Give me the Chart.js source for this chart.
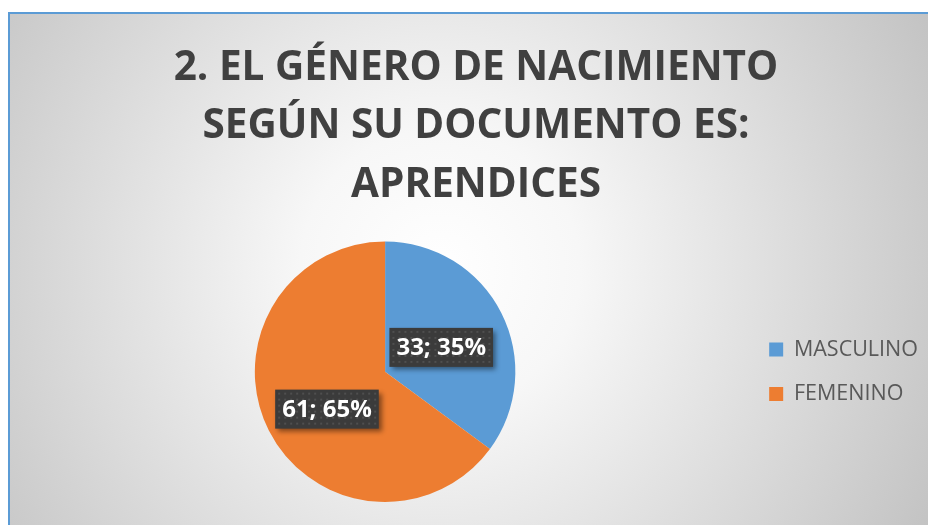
<!DOCTYPE html>
<html>
<head>
<meta charset="utf-8">
<script src="https://cdn.jsdelivr.net/npm/chart.js@4"></script>
<style>
  html, body { margin: 0; padding: 0; background: #fff; overflow: hidden; }
  #wrap { width: 928px; height: 525px; }
</style>
</head>
<body>
<div id="wrap"><canvas id="genero"></canvas></div>
<script>
const titleLines = ['2. EL GÉNERO DE NACIMIENTO', 'SEGÚN SU DOCUMENTO ES:', 'APRENDICES']
const categories = ['MASCULINO', 'FEMENINO']
const counts = [33, 61]
const percents = [35, 65]
const colors = ['#5B9BD5', '#ED7D31']

// fondo con degradado radial y borde azul
const frame = {
  id: 'frame',
  beforeDraw(chart) {
    const ctx = chart.ctx
    const w = chart.width, h = chart.height
    ctx.save()
    ctx.fillStyle = '#ffffff'
    ctx.fillRect(0, 0, w, h)
    const g = ctx.createRadialGradient(440, 270, 0, 440, 270, 560)
    g.addColorStop(0, '#ffffff')
    g.addColorStop(0.25, '#f7f7f7')
    g.addColorStop(1, '#c2c2c2')
    ctx.fillStyle = g
    ctx.fillRect(9, 14, w - 9, h - 14)
    ctx.strokeStyle = '#5B9BD5'
    ctx.lineWidth = 2
    ctx.beginPath()
    ctx.moveTo(9, h)
    ctx.lineTo(9, 13)
    ctx.lineTo(w, 13)
    ctx.stroke()
    ctx.restore()
  }
}

// etiquetas "valor; porcentaje" con caja oscura
const dataLabels = {
  id: 'dataLabels',
  afterDatasetsDraw(chart) {
    const ctx = chart.ctx
    const meta = chart.getDatasetMeta(0)
    ctx.save()
    ctx.font = 'bold 24px "Open Sans"'
    ctx.textAlign = 'center'
    ctx.textBaseline = 'middle'
    meta.data.forEach((arc, i) => {
      const p = arc.getProps(['x', 'y', 'startAngle', 'endAngle', 'outerRadius'], true)
      const mid = (p.startAngle + p.endAngle) / 2
      const r = p.outerRadius * 0.5
      const cx = p.x + Math.cos(mid) * r + (i === 1 ? 0 : -2)
      const cy = p.y + Math.sin(mid) * r + (i === 1 ? 8 : 5)
      const text = counts[i] + '; ' + percents[i] + '%'
      const bw = ctx.measureText(text).width + 14
      const bh = 39
      const bx = cx - bw / 2, by = cy - bh / 2
      ctx.shadowColor = 'rgba(0,0,0,0.45)'
      ctx.shadowBlur = 5
      ctx.shadowOffsetX = 3
      ctx.shadowOffsetY = 3
      ctx.fillStyle = '#3b3b3b'
      ctx.fillRect(bx, by, bw, bh)
      ctx.shadowColor = 'transparent'
      ctx.fillStyle = '#4f4f4f'
      for (let yy = by + 3; yy < by + bh - 1; yy += 6) {
        for (let xx = bx + 3; xx < bx + bw - 1; xx += 6) {
          ctx.fillRect(xx, yy, 2, 2)
        }
      }
      ctx.fillStyle = '#ffffff'
      ctx.fillText(text, cx, cy + 1)
    })
    ctx.restore()
  }
}

new Chart(
  document.getElementById('genero'),
  {
    type: 'pie',
    data: {
      labels: categories,
      datasets: [
        {
          data: counts,
          backgroundColor: colors,
          borderWidth: 0
        }
      ]
    },
    options: {
      responsive: true,
      maintainAspectRatio: false,
      animation: false,
      layout: {
        padding: { left: 24, right: 0, top: 0, bottom: 23 }
      },
      plugins: {
        title: {
          display: true,
          text: titleLines,
          color: '#404040',
          font: { family: '"Open Sans"', size: 40.5, weight: 'bold', lineHeight: 58.5 / 40.5 },
          padding: { top: 39, bottom: 27 }
        },
        legend: {
          position: 'right',
          fullSize: false,
          labels: {
            boxWidth: 14,
            boxHeight: 14,
            padding: 23,
            color: '#595959',
            font: { family: '"Open Sans"', size: 21.5 }
          }
        },
        tooltip: { enabled: false }
      }
    },
    plugins: [frame, dataLabels]
  }
)
</script>
</body>
</html>
